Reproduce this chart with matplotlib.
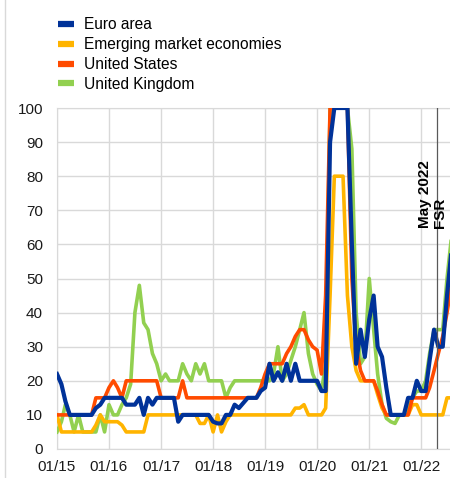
import matplotlib
matplotlib.use("Agg")
import matplotlib.pyplot as plt
import matplotlib.dates as mdates
from matplotlib.lines import Line2D
import numpy as np
import pandas as pd

plt.rcParams['font.family'] = ['Liberation Sans', 'DejaVu Sans']

dates = pd.date_range('2015-01-01', periods=92, freq='MS')

euro_area = [22, 19, 14, 10, 10, 10, 10, 10, 10, 12, 13, 15,
             15, 15, 15, 15, 13, 13, 13, 15, 10, 15, 13, 15,
             15, 15, 15, 15, 8, 10, 10, 10, 10, 10, 10, 10,
             8, 7.5, 7.5, 10, 10, 13, 12, 13.5, 15, 15, 15, 17,
             18, 25, 20, 22.5, 20, 25, 20, 25, 20, 20, 20, 20,
             20, 17, 17, 90, 100, 100, 100, 100, 60, 25, 35, 27,
             38, 45, 30, 27, 18, 10, 10, 10, 10, 15, 15, 20,
             17, 17, 26, 35, 30, 30, 45, 58]

emerging = [10, 5, 5, 5, 5, 5, 5, 5, 5, 7, 10, 8,
            8, 8, 8, 7, 5, 5, 5, 5, 5, 10, 10, 10,
            10, 10, 10, 10, 10, 10, 10, 10, 10, 7.5, 7.5, 10,
            5, 10, 5, 8, 10, 10, 10, 10, 10, 10, 10, 10,
            10, 10, 10, 10, 10, 10, 10, 12, 12, 13, 10, 10,
            10, 10, 12, 45, 80, 80, 80, 45, 30, 23, 20, 20,
            20, 20, 16, 12, 10, 10, 10, 10, 10, 10, 13, 13,
            10, 10, 10, 10, 10, 10, 15, 15]

united_states = [10, 10, 10, 10, 10, 10, 10, 10, 10, 15, 15, 15,
                 18, 20, 18, 15, 20, 20, 20, 20, 20, 20, 20, 20,
                 15, 15, 15, 15, 15, 20, 15, 15, 15, 15, 15, 15,
                 15, 15, 15, 15, 15, 15, 15, 15, 15, 15, 15, 18,
                 22, 25, 25, 25, 25, 28, 30, 33, 35, 35, 32, 30,
                 29, 22, 45, 100, 100, 100, 100, 100, 50, 30, 23, 20,
                 20, 20, 17, 13, 10, 10, 10, 10, 10, 10, 15, 15,
                 15, 15, 18, 23, 28, 33, 40, 48]

united_kingdom = [5, 8, 13, 10, 5, 10, 5, 5, 5, 5, 10, 5,
                  13, 10, 10, 13, 15, 19, 40, 48, 37, 35, 28, 25,
                  20, 22, 20, 20, 20, 25, 22, 20, 25, 22, 25, 20,
                  20, 20, 20, 15, 18, 20, 20, 20, 20, 20, 20, 20,
                  20, 20, 22, 30, 20, 22, 26, 30, 35, 40, 28, 22,
                  19, 17, 25, 100, 100, 100, 100, 100, 88, 40, 25, 27,
                  50, 35, 22, 13, 9, 8, 7.5, 10, 10, 12, 15, 17,
                  17, 20, 28, 35, 35, 35, 50, 62]

labels = ['Euro area', 'Emerging market economies', 'United States', 'United Kingdom']
colors = ['#003299', '#ffb400', '#ff4b00', '#92d050']
year_ticks = pd.date_range('2015-01-01', '2022-01-01', freq='YS')
fsr_date = pd.Timestamp('2022-04-20')

fig = plt.figure(figsize=(4.5, 4.78), dpi=100)
ax = fig.add_axes([57 / 450, 29 / 478, 1 - 57 / 450, 341 / 478])

ax.plot(dates, united_kingdom, color=colors[3], lw=2.6, zorder=3)
ax.plot(dates, emerging, color=colors[1], lw=2.6, zorder=4)
ax.plot(dates, united_states, color=colors[2], lw=2.6, zorder=5)
ax.plot(dates, euro_area, color=colors[0], lw=3.0, zorder=6)

ax.axvline(fsr_date, color='#595959', lw=0.9, zorder=7)
ax.annotate('May 2022\nFSR', xy=(fsr_date, 64.7), xytext=(-3, 0),
            textcoords='offset points', rotation=90, ha='center', va='bottom',
            multialignment='left', fontsize=11, fontweight='bold',
            linespacing=1.1, zorder=8)

ax.set_ylim(0, 100)
ax.set_yticks(range(0, 101, 10))
ax.set_xlim(dates[0], pd.Timestamp('2022-07-22'))
ax.set_xticks(year_ticks)
ax.xaxis.set_major_formatter(mdates.DateFormatter('%m/%y'))
ax.tick_params(axis='both', length=0, labelsize=11, colors='#1a1a1a')
ax.tick_params(axis='y', pad=10)
ax.tick_params(axis='x', pad=8)
ax.grid(color='#d9d9d9', lw=1, zorder=0)
ax.set_axisbelow(True)
for side in ['left', 'bottom', 'top']:
    ax.spines[side].set_color('#d9d9d9')
ax.spines['right'].set_visible(False)

handles = [Line2D([0], [0], color=c, lw=4.5, solid_capstyle='butt') for c in colors]
fig.legend(handles, labels, loc='upper left', bbox_to_anchor=(58 / 450, 1 - 17 / 478),
           frameon=False, fontsize=11.2, handlelength=1.0, handletextpad=0.7,
           labelspacing=0.32, borderpad=0, borderaxespad=0)

fig.add_artist(Line2D([5 / 450, 5 / 450], [0, 1], color='#d9d9d9', lw=1))

fig.savefig('out.png', dpi=100)
